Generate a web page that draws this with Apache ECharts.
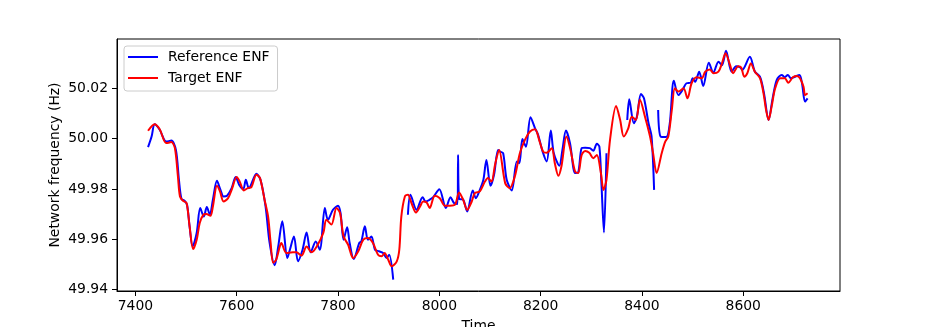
<!DOCTYPE html>
<html>
<head>
<meta charset="utf-8">
<script src="https://cdn.jsdelivr.net/npm/echarts@6/dist/echarts.min.js"></script>
<style>html,body{margin:0;padding:0;background:#fff;}#c{width:933px;height:327px;}</style>
</head>
<body>
<div id="c"></div>
<script>
const xTicks = [7400, 7600, 7800, 8000, 8200, 8400, 8600];
const yTicks = [49.94, 49.96, 49.98, 50.00, 50.02];

const tgtTime = [7425,7438,7448,7461,7471,7478,7484,7488,7494,7501,7507,7514,7521,7527,7534,7540,7548,7553,7561,7567,7574,7583,7590,7600,7606,7614,7622,7629,7639,7646,7655,7662,7667,7672,7678,7685,7688,7698,7711,7718,7728,7738,7748,7758,7771,7777,7787,7797,7804,7811,7820,7830,7840,7850,7859,7869,7879,7886,7892,7899,7906,7916,7921,7925,7932,7938,7945,7954,7962,7968,7975,7981,7991,8001,8011,8021,8031,8039,8047,8055,8064,8070,8080,8090,8096,8103,8110,8118,8130,8139,8149,8159,8169,8179,8189,8197,8205,8212,8222,8228,8235,8241,8251,8259,8268,8274,8281,8288,8296,8304,8311,8319,8324,8330,8337,8349,8357,8364,8373,8380,8388,8396,8406,8416,8422,8429,8439,8446,8452,8459,8465,8472,8482,8490,8498,8508,8518,8525,8534,8541,8551,8558,8565,8574,8580,8590,8596,8602,8608,8615,8623,8633,8640,8645,8650,8656,8663,8673,8682,8689,8698,8706,8712,8719,8722,8727];
const tgtFreq = [50.0031,50.0057,50.0037,49.9982,49.9986,49.9962,49.9849,49.9770,49.9753,49.9744,49.9651,49.9561,49.9598,49.9664,49.9697,49.9700,49.9693,49.9730,49.9812,49.9790,49.9750,49.9763,49.9796,49.9847,49.9829,49.9794,49.9803,49.9807,49.9856,49.9843,49.9757,49.9690,49.9585,49.9506,49.9519,49.9571,49.9585,49.9545,49.9548,49.9548,49.9535,49.9571,49.9548,49.9571,49.9625,49.9677,49.9658,49.9724,49.9704,49.9611,49.9578,49.9525,49.9552,49.9598,49.9605,49.9585,49.9538,49.9532,49.9545,49.9519,49.9492,49.9512,49.9558,49.9690,49.9770,49.9777,49.9744,49.9706,49.9730,49.9750,49.9746,49.9724,49.9773,49.9763,49.9733,49.9733,49.9737,49.9786,49.9757,49.9717,49.9750,49.9783,49.9790,49.9829,49.9843,49.9829,49.9896,49.9955,49.9823,49.9803,49.9849,49.9942,49.9995,50.0028,50.0037,49.9995,49.9948,49.9944,49.9962,49.9902,49.9852,49.9889,50.0008,49.9955,49.9869,49.9863,49.9935,49.9951,49.9944,49.9922,49.9935,49.9863,49.9796,49.9836,49.9995,50.0130,50.0074,50.0008,50.0041,50.0087,50.0074,50.0154,50.0087,50.0008,49.9942,49.9863,49.9942,49.9988,50.0008,50.0114,50.0200,50.0187,50.0200,50.0160,50.0220,50.0244,50.0240,50.0266,50.0275,50.0260,50.0266,50.0299,50.0339,50.0292,50.0260,50.0288,50.0283,50.0246,50.0260,50.0299,50.0266,50.0240,50.0180,50.0114,50.0074,50.0127,50.0200,50.0240,50.0240,50.0222,50.0244,50.0249,50.0240,50.0206,50.0173,50.0180];

const refTime = [7425,7432,7438,7448,7461,7471,7480,7486,7491,7497,7502,7507,7513,7521,7528,7535,7541,7547,7553,7561,7568,7574,7581,7590,7598,7605,7613,7618,7624,7639,7647,7657,7665,7675,7682,7690,7700,7705,7713,7721,7730,7738,7746,7756,7764,7774,7780,7790,7800,7805,7811,7818,7823,7831,7842,7846,7853,7859,7866,7873,7881,7889,7896,7901,7909,7924,7938,7943,7955,7967,7973,7981,7988,8000,8013,8022,8029,8036,8037,8039,8047,8055,8066,8072,8080,8087,8093,8101,8108,8116,8120,8126,8133,8143,8153,8158,8164,8171,8180,8189,8195,8204,8212,8220,8226,8237,8243,8250,8258,8268,8274,8281,8288,8297,8304,8311,8316,8320,8325,8330,8350,8371,8375,8384,8390,8398,8404,8413,8419,8424,8428,8432,8437,8448,8455,8463,8472,8480,8488,8496,8500,8505,8513,8521,8532,8541,8551,8558,8566,8577,8586,8594,8598,8613,8623,8633,8641,8650,8658,8666,8676,8682,8688,8694,8702,8711,8716,8722,8727];
const refFreq = [49.9966,50.0008,50.0057,50.0035,49.9988,49.9992,49.9955,49.9836,49.9760,49.9753,49.9737,49.9651,49.9571,49.9625,49.9724,49.9690,49.9728,49.9697,49.9757,49.9832,49.9796,49.9770,49.9773,49.9803,49.9847,49.9816,49.9799,49.9836,49.9803,49.9860,49.9836,49.9730,49.9585,49.9496,49.9571,49.9671,49.9525,49.9558,49.9611,49.9512,49.9558,49.9627,49.9548,49.9591,49.9558,49.9724,49.9677,49.9717,49.9733,49.9704,49.9598,49.9647,49.9585,49.9521,49.9585,49.9591,49.9651,49.9598,49.9611,49.9558,49.9552,49.9545,49.9525,49.9538,49.9439,null,49.9697,49.9777,49.9717,49.9767,49.9750,49.9757,49.9767,49.9799,49.9724,49.9767,49.9744,49.9740,49.9935,49.9760,49.9757,49.9710,49.9794,49.9763,49.9796,49.9836,49.9915,49.9812,49.9856,49.9955,49.9948,49.9942,49.9836,49.9794,49.9909,49.9902,49.9998,49.9968,50.0085,50.0041,50.0015,49.9948,49.9909,50.0032,49.9942,49.9892,49.9955,50.0032,49.9982,49.9863,49.9865,49.9962,49.9964,49.9962,49.9952,49.9979,49.9968,49.9823,49.9627,49.9942,null,50.0074,50.0156,50.0061,50.0087,50.0177,50.0160,50.0061,50.0008,49.9796,null,50.0114,50.0008,50.0006,50.0061,50.0230,50.0173,50.0193,50.0220,50.0222,50.0240,50.0226,50.0266,50.0209,50.0302,50.0262,50.0306,50.0292,50.0349,50.0266,50.0288,50.0283,50.0273,50.0325,50.0266,50.0246,50.0180,50.0074,50.0160,50.0233,50.0253,50.0244,50.0253,50.0240,50.0246,50.0253,50.0220,50.0147,50.0160];

const refData = refTime.map((t, i) => [t, refFreq[i]]);
const tgtData = tgtTime.map((t, i) => [t, tgtFreq[i]]);

const FONT = 'DejaVu Sans';
const LINE_ICON = 'path://M0,0 L30,0 L30,2 L0,2 Z';
const chart = echarts.init(document.getElementById('c'), null, {renderer: 'canvas'});
chart.setOption({
  animation: false,
  backgroundColor: '#fff',
  textStyle: {fontFamily: FONT},
  grid: {left: 117, right: 93, top: 39, bottom: 36, outerBoundsMode: 'none', containLabel: false,
         show: true, borderColor: '#000', borderWidth: 1, backgroundColor: 'transparent'},
  legend: {
    orient: 'vertical', left: 124, top: 46,
    itemWidth: 30, itemHeight: 14, itemGap: 7,
    padding: [4, 8, 6, 4],
    backgroundColor: '#fff', borderColor: '#cccccc', borderWidth: 1, borderRadius: 3,
    textStyle: {fontFamily: FONT, fontSize: 13.9, color: '#000', padding: [0, 0, 0, 5]},
    data: [{name: 'Reference ENF', icon: LINE_ICON, itemStyle: {color: '#0000ff'}},
           {name: 'Target ENF', icon: LINE_ICON, itemStyle: {color: '#ff0000'}}]
  },
  xAxis: {
    type: 'value', min: 7363.7, max: 8791,
    name: 'Time', nameLocation: 'middle', nameGap: 28, nameMoveOverlap: false,
    nameTextStyle: {fontFamily: FONT, fontSize: 13.9, color: '#000', verticalAlign: 'top'},
    axisLine: {show: true, onZero: false, lineStyle: {color: '#000', width: 1}},
    axisTick: {show: true, length: 5, lineStyle: {color: '#000'}, customValues: xTicks},
    axisLabel: {fontFamily: FONT, fontSize: 13.9, color: '#000', margin: 8, customValues: xTicks, formatter: v => String(v)},
    splitLine: {show: false}
  },
  yAxis: {
    type: 'value', min: 49.9394, max: 50.0396,
    name: 'Network frequency (Hz)', nameLocation: 'middle', nameGap: 62, nameRotate: 90, nameMoveOverlap: false,
    nameTextStyle: {fontFamily: FONT, fontSize: 13.9, color: '#000', verticalAlign: 'middle'},
    axisLine: {show: true, onZero: false, lineStyle: {color: '#000', width: 1}},
    axisTick: {show: true, length: 5, lineStyle: {color: '#000'}, customValues: yTicks},
    axisLabel: {fontFamily: FONT, fontSize: 13.9, color: '#000', margin: 9, customValues: yTicks, formatter: v => v.toFixed(2)},
    splitLine: {show: false}
  },
  series: [
    {name: 'Reference ENF', type: 'line', data: refData, symbol: 'none', smooth: 0.3, connectNulls: false,
     lineStyle: {color: '#0000ff', width: 2}, itemStyle: {color: '#0000ff'}},
    {name: 'Target ENF', type: 'line', data: tgtData, symbol: 'none', smooth: 0.3,
     lineStyle: {color: '#ff0000', width: 2}, itemStyle: {color: '#ff0000'}}
  ]
});
</script>
</body>
</html>
